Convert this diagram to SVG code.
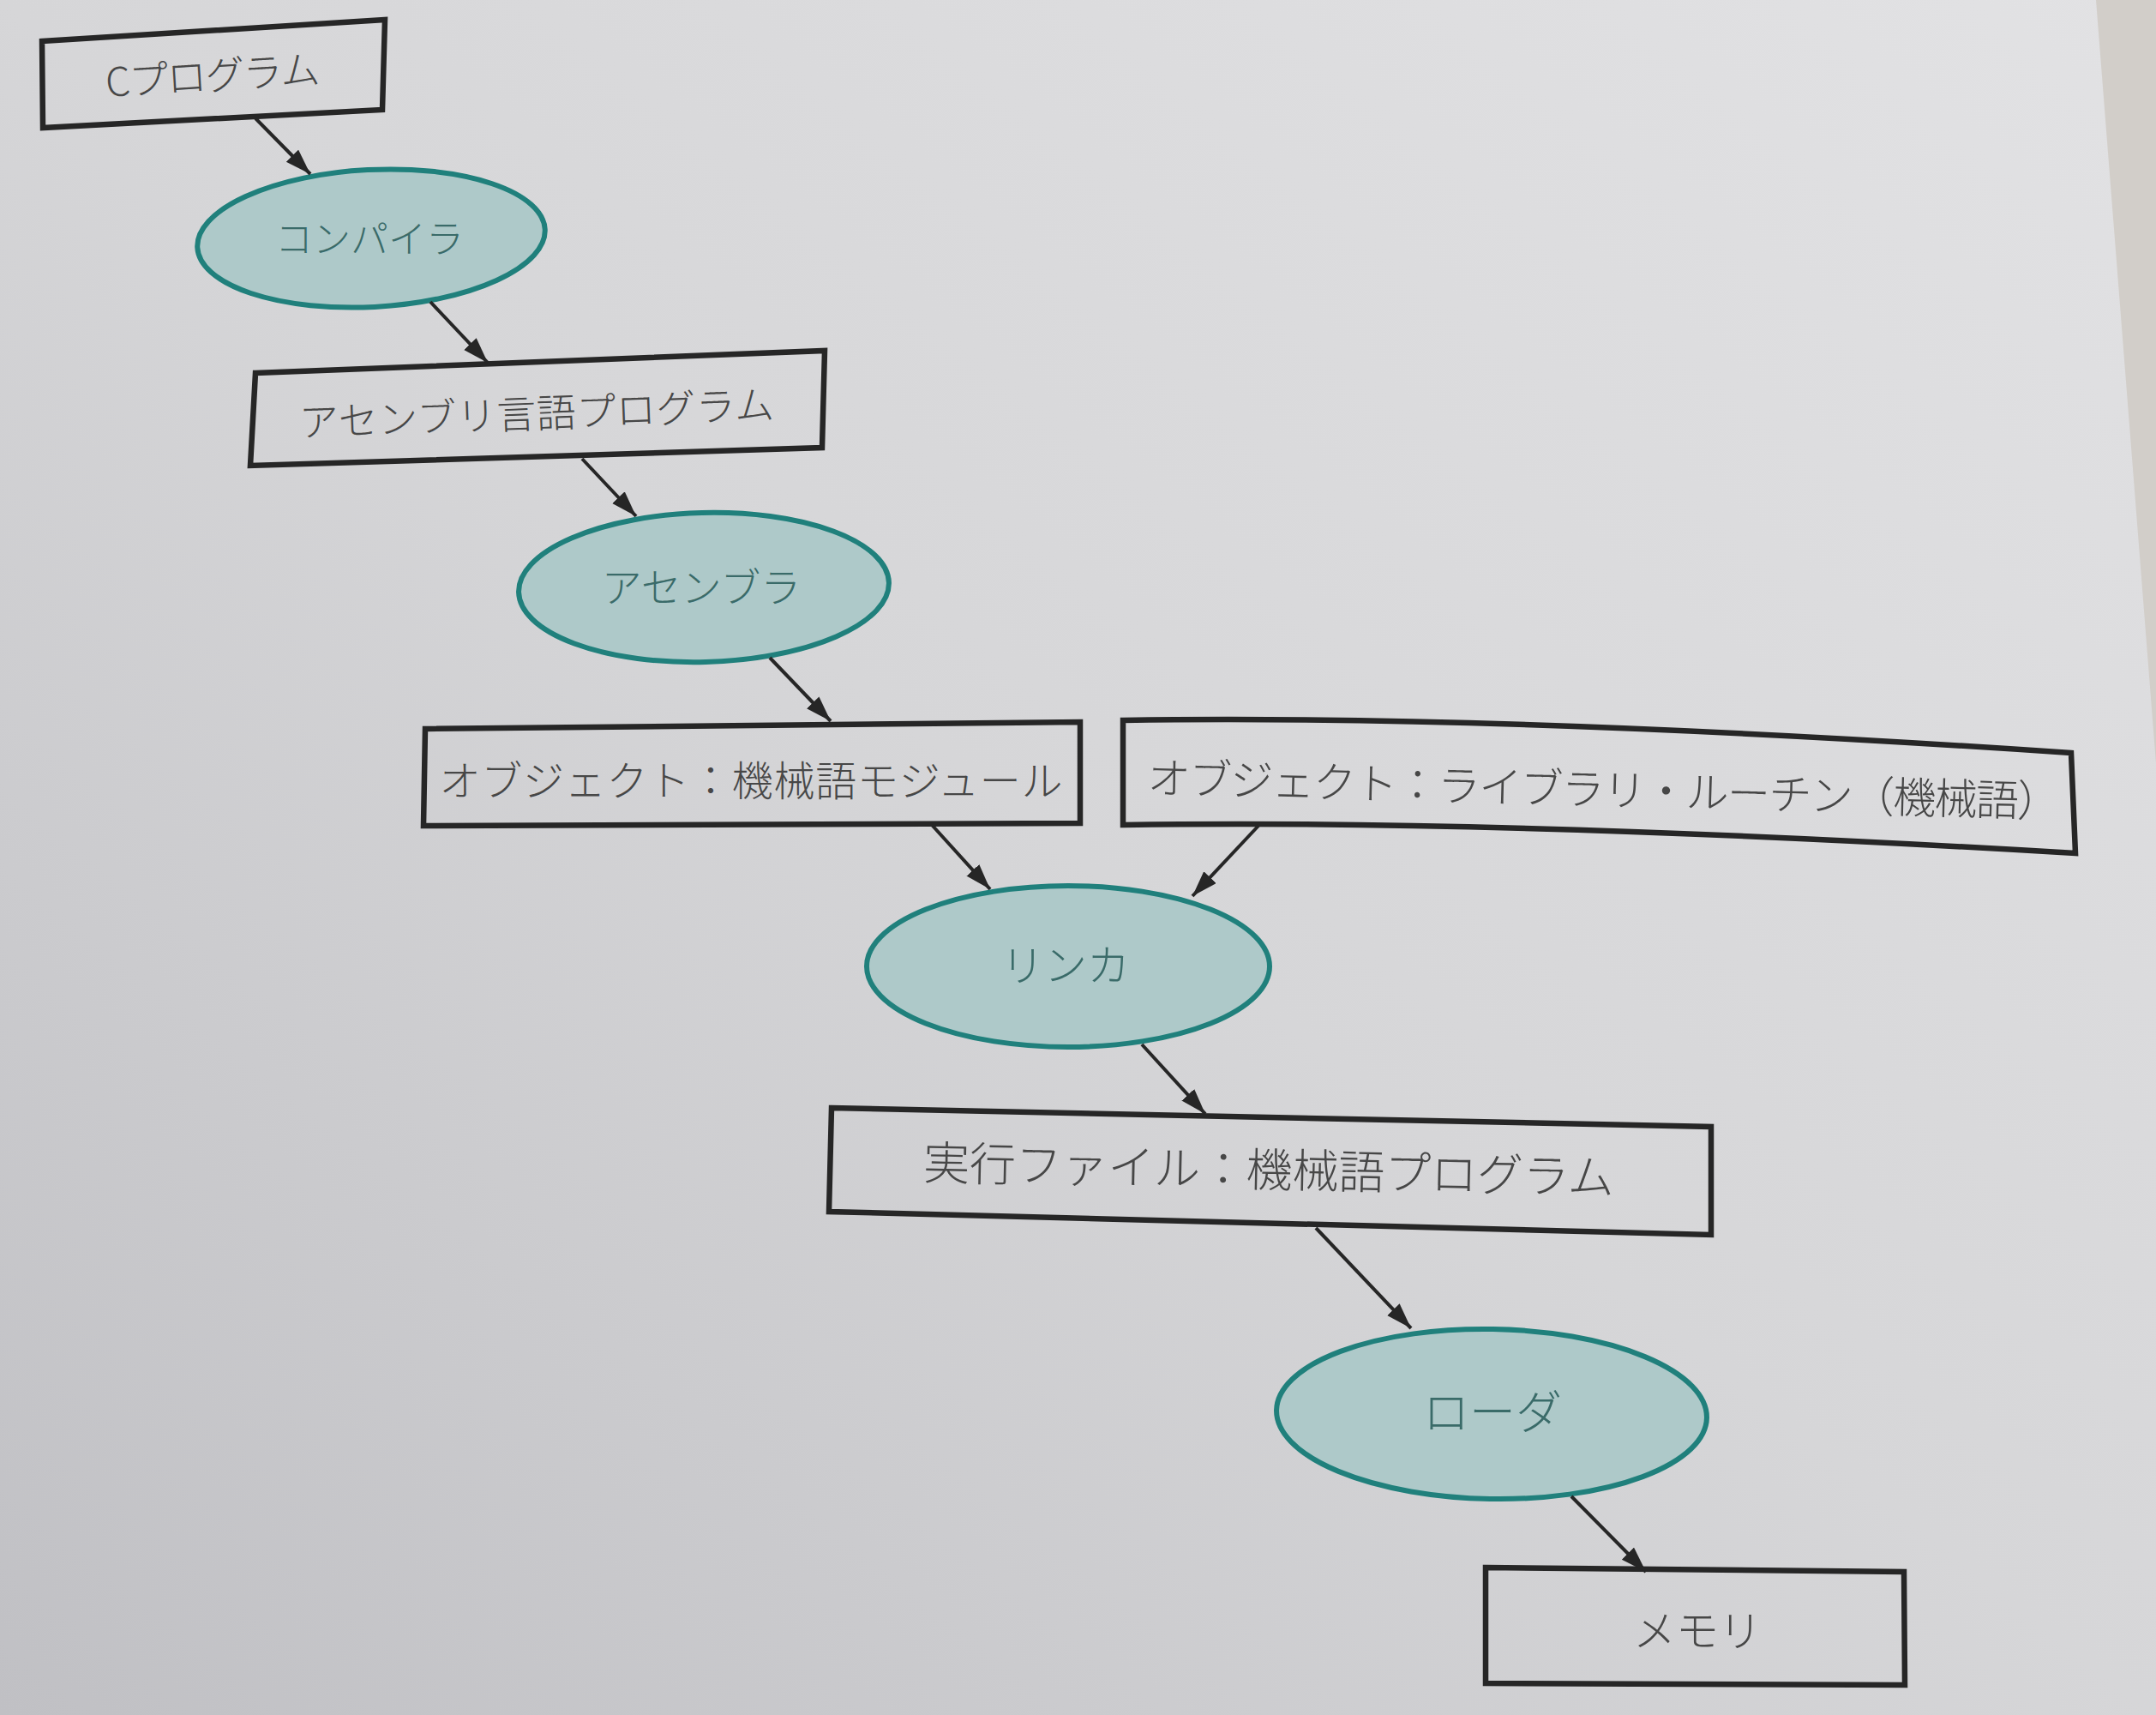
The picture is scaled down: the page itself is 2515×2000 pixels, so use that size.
<svg xmlns="http://www.w3.org/2000/svg" width="2515" height="2000" viewBox="0 0 2515 2000">
<defs>
<linearGradient id="bg" x1="1" y1="0" x2="0" y2="1">
<stop offset="0" stop-color="#e2e2e4"/>
<stop offset="0.5" stop-color="#d6d6d8"/>
<stop offset="1" stop-color="#c0c0c4"/>
</linearGradient>
<marker id="ah" markerUnits="userSpaceOnUse" markerWidth="32" markerHeight="22" refX="30" refY="10" orient="auto">
<path d="M0,0 L30,10 L0,20 Z" fill="#262626"/>
</marker>
<style>
.box{fill:none;stroke:#262626;stroke-width:6.5;stroke-linejoin:miter}
.ell{fill:#aec9c9;stroke:#20807c;stroke-width:6}
.bt{font-family:"Noto Sans CJK JP","Noto Sans",sans-serif;font-weight:300;fill:#474747;text-anchor:middle}
.et{font-family:"Noto Sans CJK JP","Noto Sans",sans-serif;font-weight:300;fill:#3a6b69;text-anchor:middle}
.con line{stroke:#262626;stroke-width:4;marker-end:url(#ah)}
</style>
</defs>
<rect x="0" y="0" width="2515" height="2000" fill="url(#bg)"/>
<polygon points="2445,0 2515,0 2515,890" fill="#d2cec9"/>

<g id="c-program">
<path class="box" d="M49,48 L449,23 L446,128 L50,149 Z"/>
<text class="bt" x="248" y="105" font-size="46" textLength="250" fill="#666" transform="rotate(-3.6 248 88)">Cプログラム</text>
</g>

<g id="compiler">
<ellipse class="ell" cx="433" cy="278" rx="203" ry="80" transform="rotate(-3 433 278)"/>
<text class="et" x="431" y="295" font-size="44">コンパイラ</text>
</g>

<g id="asm-program">
<path class="box" d="M298,435 L962,409 L959,522 L292,543 Z"/>
<text class="bt" x="626" y="499" font-size="46" textLength="554" transform="rotate(-2.2 626 482)">アセンブリ言語プログラム</text>
</g>

<g id="assembler">
<ellipse class="ell" cx="821" cy="685" rx="216" ry="87" transform="rotate(-1.5 821 685)"/>
<text class="et" x="818" y="702" font-size="47">アセンブラ</text>
</g>

<g id="object-module">
<path class="box" d="M496,850 L1260,842 L1260,960 L494,963 Z"/>
<text class="bt" x="876" y="928" font-size="48" textLength="727">オブジェクト：機械語モジュール</text>
</g>

<g id="object-library">
<path class="box" d="M1310,840 Q1750,833 2416,878 L2421,995 Q1750,955 1310,962 Z"/>
<text class="bt" x="1871" y="939" font-size="50" textLength="1065" transform="rotate(1.5 1871 920)">オブジェクト：ライブラリ・ルーチン（機械語）</text>
</g>

<g id="linker">
<ellipse class="ell" cx="1246" cy="1127" rx="235" ry="94"/>
<text class="et" x="1243" y="1144" font-size="50">リンカ</text>
</g>

<g id="executable">
<path class="box" d="M970,1292 L1996,1314 L1996,1440 L967,1413 Z"/>
<text class="bt" x="1480" y="1384" font-size="54" textLength="806" transform="rotate(1.2 1480 1363)">実行ファイル：機械語プログラム</text>
</g>

<g id="loader">
<ellipse class="ell" cx="1740" cy="1649" rx="251" ry="99" transform="rotate(1 1740 1649)"/>
<text class="et" x="1741" y="1667" font-size="54">ローダ</text>
</g>

<g id="memory">
<path class="box" d="M1733,1828 L2221,1833 L2222,1965 L1733,1963 Z"/>
<text class="bt" x="1980" y="1920" font-size="50">メモリ</text>
</g>

<g id="connectors" class="con">
<line x1="298" y1="138" x2="362" y2="203"/>
<line x1="502" y1="352" x2="569" y2="423"/>
<line x1="679" y1="535" x2="742" y2="602"/>
<line x1="898" y1="767" x2="969" y2="841"/>
<line x1="1087" y1="962" x2="1155" y2="1037"/>
<line x1="1468" y1="963" x2="1391" y2="1045"/>
<line x1="1332" y1="1218" x2="1406" y2="1299"/>
<line x1="1535" y1="1432" x2="1646" y2="1549"/>
<line x1="1833" y1="1745" x2="1920" y2="1833"/>
</g>
</svg>
